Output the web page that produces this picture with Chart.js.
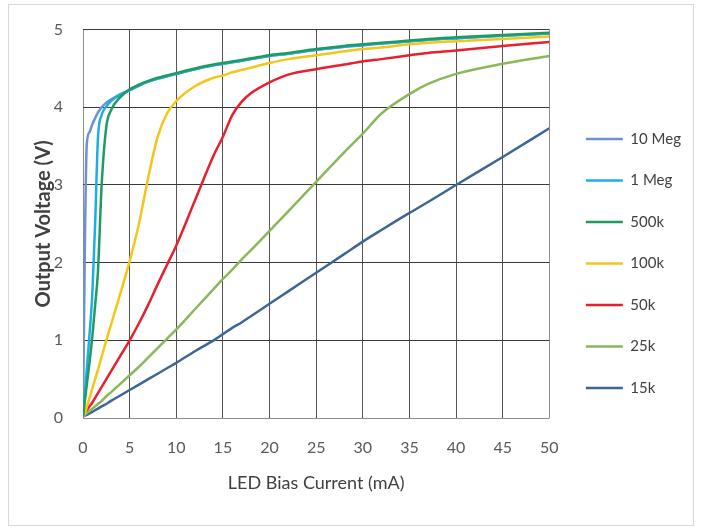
<!DOCTYPE html>
<html>
<head>
<meta charset="utf-8">
<script src="https://cdn.jsdelivr.net/npm/chart.js@4"></script>
<style>
  html, body { margin: 0; padding: 0; background: #fff; }
  #wrap { position: relative; width: 702px; height: 529px; }
  #frame { position: absolute; left: 8px; top: 4px; width: 686px; height: 522px; border: 1px solid #d9d9d9; box-sizing: border-box; }
  canvas { position: absolute; left: 0; top: 0; }
</style>
</head>
<body>
<div id="wrap">
  <div id="frame"></div>
  <canvas id="chart" width="702" height="529"></canvas>
</div>
<script>
// =====================
// Data (x = LED bias current, mA)
// =====================
const currentMA = [0, 0.2, 0.4, 0.7, 1, 1.3, 1.6, 2, 2.5, 3, 4, 5, 6, 7, 8, 9, 10, 12, 14, 15, 16, 17, 18, 20, 22, 25, 28, 30, 32, 35, 37, 40, 45, 50];

const seriesNames = ["10 Meg", "1 Meg", "500k", "100k", "50k", "25k", "15k"];
const seriesColors = ["#6b93cf", "#1aaee6", "#1f9b5f", "#f5c518", "#e8202e", "#8cb65a", "#3f6593"];

const v10Meg = [0.02, 2.2, 3.52, 3.68, 3.78, 3.86, 3.93, 4.0, 4.06, 4.1, 4.17, 4.22, 4.28, 4.33, 4.37, 4.4, 4.43, 4.49, 4.54, 4.56, 4.58, 4.6, 4.62, 4.66, 4.69, 4.74, 4.78, 4.8, 4.82, 4.85, 4.87, 4.89, 4.92, 4.95];
const v1Meg  = [0.02, 0.32, 0.62, 1.08, 1.6, 2.5, 3.6, 3.9, 4.01, 4.08, 4.16, 4.22, 4.28, 4.33, 4.37, 4.4, 4.43, 4.49, 4.54, 4.56, 4.58, 4.6, 4.62, 4.66, 4.69, 4.74, 4.78, 4.8, 4.82, 4.85, 4.87, 4.89, 4.92, 4.95];
const v500k  = [0.02, 0.22, 0.42, 0.72, 1.05, 1.45, 1.88, 3.0, 3.75, 3.96, 4.13, 4.23, 4.29, 4.34, 4.38, 4.41, 4.44, 4.5, 4.55, 4.57, 4.59, 4.61, 4.63, 4.67, 4.7, 4.75, 4.79, 4.81, 4.83, 4.86, 4.88, 4.9, 4.93, 4.96];
const v100k  = [0.02, 0.06, 0.14, 0.26, 0.38, 0.5, 0.62, 0.79, 1.0, 1.2, 1.6, 2.02, 2.5, 3.1, 3.62, 3.92, 4.08, 4.27, 4.38, 4.41, 4.45, 4.48, 4.51, 4.57, 4.62, 4.67, 4.72, 4.75, 4.77, 4.81, 4.83, 4.85, 4.88, 4.91];
const v50k   = [0.03, 0.07, 0.1, 0.15, 0.2, 0.26, 0.32, 0.4, 0.5, 0.6, 0.8, 1.0, 1.22, 1.46, 1.72, 1.97, 2.22, 2.8, 3.38, 3.62, 3.9, 4.07, 4.18, 4.32, 4.42, 4.49, 4.55, 4.59, 4.62, 4.67, 4.7, 4.73, 4.79, 4.84];
const v25k   = [0.02, 0.04, 0.06, 0.09, 0.12, 0.15, 0.18, 0.22, 0.28, 0.33, 0.44, 0.55, 0.66, 0.78, 0.9, 1.02, 1.14, 1.4, 1.66, 1.79, 1.91, 2.04, 2.16, 2.41, 2.66, 3.04, 3.42, 3.66, 3.92, 4.17, 4.3, 4.43, 4.56, 4.66];
const v15k   = [0.02, 0.03, 0.04, 0.06, 0.08, 0.1, 0.12, 0.15, 0.18, 0.22, 0.29, 0.36, 0.43, 0.5, 0.57, 0.64, 0.71, 0.86, 1.0, 1.08, 1.16, 1.23, 1.31, 1.47, 1.63, 1.87, 2.11, 2.27, 2.42, 2.64, 2.78, 3.0, 3.36, 3.73];

const seriesValues = [v10Meg, v1Meg, v500k, v100k, v50k, v25k, v15k];
// draw order: green band on top of the two blue curves
const seriesOrder = [2, 1, 0, 3, 4, 5, 6];

const FONT = "Lato, 'Liberation Sans', sans-serif";

const datasets = seriesNames.map((name, i) => ({
  label: name,
  data: currentMA.map((x, j) => ({ x, y: seriesValues[i][j] })),
  borderColor: seriesColors[i],
  backgroundColor: seriesColors[i],
  borderWidth: 2.5,
  pointRadius: 0,
  cubicInterpolationMode: 'monotone',
  order: seriesOrder[i]
}));

new Chart(document.getElementById('chart'), {
  type: 'line',
  data: { datasets },
  options: {
    responsive: false,
    animation: false,
    layout: { padding: { left: 20, top: 24, right: 11, bottom: 26 } },
    plugins: {
      tooltip: { enabled: false },
      legend: {
        position: 'right',
        maxWidth: 200,
        labels: {
          usePointStyle: true,
          pointStyle: 'line',
          pointStyleWidth: 37,
          padding: 26.5,
          color: '#404040',
          font: { family: FONT, size: 15 },
          sort: (a, b) => a.datasetIndex - b.datasetIndex
        }
      }
    },
    scales: {
      x: {
        type: 'linear',
        min: 0, max: 50,
        border: { display: false },
        grid: {
          drawTicks: false,
          color: c => (c.tick.value === 0 || c.tick.value === 50) ? '#8c8c8c' : '#555555'
        },
        ticks: { stepSize: 5, padding: 20, color: '#595959', font: { family: FONT, size: 16 } },
        title: { display: true, text: 'LED Bias Current (mA)', color: '#404040', padding: { top: 4, bottom: 9 }, font: { family: FONT, size: 18 } },
        afterFit: s => { s.height = 85; }
      },
      y: {
        min: 0, max: 5,
        border: { display: false },
        grid: {
          drawTicks: false,
          color: c => c.tick.value === 0 ? '#8c8c8c' : '#3a3a3a'
        },
        ticks: { stepSize: 1, padding: 20, color: '#595959', font: { family: FONT, size: 16 } },
        title: { display: true, text: 'Output Voltage (V)', color: '#404040', padding: { top: 12, bottom: 0 }, font: { family: FONT, size: 20, weight: 'bold' } },
        afterFit: s => { s.width = 63; }
      },
      // empty spacer between plot and legend
      gap: {
        type: 'linear',
        position: 'right',
        display: true,
        border: { display: false },
        grid: { display: false },
        ticks: { display: false },
        afterFit: s => { s.width = 10; }
      }
    }
  }
});
</script>
</body>
</html>
